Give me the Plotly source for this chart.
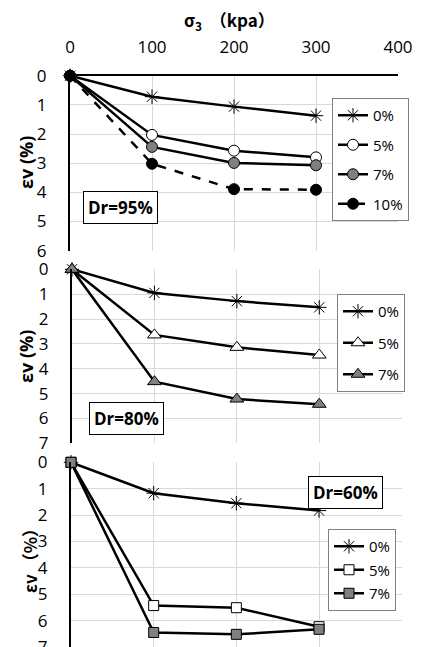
import plotly.graph_objects as go

# The page body keeps its default 8px margin, so the figure is drawn 8px in
# from the window's top-left corner; size it to fill the rest of the window.
OFF = 8
W, H = 424 - OFF, 647 - OFF

sigma3 = [0, 100, 200, 300]
x_ticks = [0, 100, 200, 300, 400]

dr95_0 = [0, 0.72, 1.06, 1.37]
dr95_5 = [0, 2.03, 2.57, 2.80]
dr95_7 = [0, 2.44, 2.99, 3.07]
dr95_10 = [0, 3.02, 3.89, 3.91]

dr80_0 = [0, 0.95, 1.28, 1.53]
dr80_5 = [0, 2.64, 3.14, 3.45]
dr80_7 = [0, 4.52, 5.22, 5.43]

dr60_0 = [0, 1.17, 1.55, 1.83]
dr60_5 = [0, 5.43, 5.51, 6.23]
dr60_7 = [0, 6.45, 6.52, 6.33]

labels95 = ["0%", "5%", "7%", "10%"]
labels80 = ["0%", "5%", "7%"]
labels60 = ["0%", "5%", "7%"]

FONT = "Open Sans"
GRAY = "#808080"
GRID = "#d9d9d9"

def px_x(p):
    return (p - OFF) / W

def px_y(p):
    return 1 - (p - OFF) / H

fig = go.Figure()

def add(x, y, name, xa, ya, leg, symbol, fill, size, dash="solid"):
    fig.add_trace(go.Scatter(
        x=x, y=y, name=name, xaxis=xa, yaxis=ya, legend=leg,
        legendgroup=leg + name, mode="lines+markers", cliponaxis=False,
        line=dict(color="black", width=2.5, dash=dash),
        marker=dict(symbol=symbol, size=size, color=fill,
                    line=dict(color="black", width=1)),
    ))

# Panel 1 (Dr=95%)
add(sigma3, dr95_0, labels95[0], "x", "y", "legend", "asterisk-open", "black", 12)
add(sigma3, dr95_5, labels95[1], "x", "y", "legend", "circle", "white", 11)
add(sigma3, dr95_7, labels95[2], "x", "y", "legend", "circle", GRAY, 11)
add(sigma3, dr95_10, labels95[3], "x", "y", "legend", "circle", "black", 11, dash="dash")

# Panel 2 (Dr=80%)
add(sigma3, dr80_0, labels80[0], "x2", "y2", "legend2", "asterisk-open", "black", 12)
add(sigma3, dr80_5, labels80[1], "x2", "y2", "legend2", "triangle-up", "white", 12)
add(sigma3, dr80_7, labels80[2], "x2", "y2", "legend2", "triangle-up", GRAY, 12)

# Panel 3 (Dr=60%)
add(sigma3, dr60_0, labels60[0], "x3", "y3", "legend3", "asterisk-open", "black", 12)
add(sigma3, dr60_5, labels60[1], "x3", "y3", "legend3", "square", "white", 10)
add(sigma3, dr60_7, labels60[2], "x3", "y3", "legend3", "square", GRAY, 10)

tickfont = dict(family=FONT, size=17, color="black")

def xaxis(dom, anchor, top=False):
    d = dict(domain=dom, range=[0, 400], tickvals=x_ticks, showgrid=True,
             gridcolor=GRID, gridwidth=1, zeroline=False, fixedrange=True,
             automargin=False, anchor=anchor)
    if top:
        d.update(side="top", showline=True, linecolor="black", linewidth=2,
                 ticks="", tickfont=tickfont, ticklabelstandoff=14)
    else:
        d.update(showticklabels=False, showline=False, ticks="")
    return d

def yaxis(dom, rng, anchor):
    return dict(domain=dom, range=rng, tick0=0, dtick=1, showgrid=True,
                gridcolor=GRID, gridwidth=1, zeroline=False, showline=True,
                linecolor="black", linewidth=2, ticks="", tickfont=tickfont,
                ticklabelstandoff=18, anchor=anchor, fixedrange=True,
                automargin=False, ticklabeloverflow="allow")

legend_common = dict(bgcolor="white", bordercolor=GRAY, borderwidth=1,
                     font=dict(family=FONT, size=15, color="black"),
                     itemwidth=30, traceorder="grouped",
                     xanchor="left", yanchor="top")

fig.update_layout(
    width=W, height=H,
    margin=dict(l=0, r=0, t=0, b=0, pad=0, autoexpand=False),
    paper_bgcolor="white", plot_bgcolor="white",
    xaxis=xaxis([px_x(70), px_x(398)], "y", top=True),
    xaxis2=xaxis([px_x(72), px_x(401.7)], "y2"),
    xaxis3=xaxis([px_x(71), px_x(401.7)], "y3"),
    yaxis=yaxis([px_y(250.7), px_y(75.7)], [6, 0], "x"),
    yaxis2=yaxis([px_y(443.3), px_y(269.3)], [7, 0], "x2"),
    yaxis3=yaxis([0, px_y(462.3)], [7, 0], "x3"),
    legend=dict(legend_common, x=px_x(332), y=px_y(98), tracegroupgap=7),
    legend2=dict(legend_common, x=px_x(337), y=px_y(294), tracegroupgap=9),
    legend3=dict(legend_common, x=px_x(328), y=px_y(529), tracegroupgap=1),
    showlegend=True,
)

annots = [
    dict(text="<b>σ<sub>3</sub>  （kpa）</b>", x=px_x(229), y=px_y(20),
         font=dict(family="Noto Sans CJK SC", size=17, color="black")),
    dict(text="<b>εv (%)</b>", x=px_x(26), y=px_y(163), textangle=-90,
         font=dict(family=FONT, size=18, color="black")),
    dict(text="<b>εv (%)</b>", x=px_x(26), y=px_y(357), textangle=-90,
         font=dict(family=FONT, size=18, color="black")),
    dict(text="<b>εv （%）</b>", x=px_x(29), y=px_y(557), textangle=-90,
         font=dict(family="Noto Sans CJK SC", size=17, color="black")),
    dict(text="<b>Dr=95%</b>", x=px_x(121), y=px_y(207.4), bordercolor="black",
         borderwidth=1, borderpad=4, bgcolor="white",
         font=dict(family=FONT, size=17, color="black")),
    dict(text="<b>Dr=80%</b>", x=px_x(126), y=px_y(418.7), bordercolor="black",
         borderwidth=1, borderpad=4, bgcolor="white",
         font=dict(family=FONT, size=17, color="black")),
    dict(text="<b>Dr=60%</b>", x=px_x(345.7), y=px_y(492), bordercolor="black",
         borderwidth=1, borderpad=4, bgcolor="white",
         font=dict(family=FONT, size=17, color="black")),
]
for a in annots:
    a.update(xref="paper", yref="paper", showarrow=False,
             xanchor="center", yanchor="middle")
fig.update_layout(annotations=annots)

fig.write_html("out.html")
